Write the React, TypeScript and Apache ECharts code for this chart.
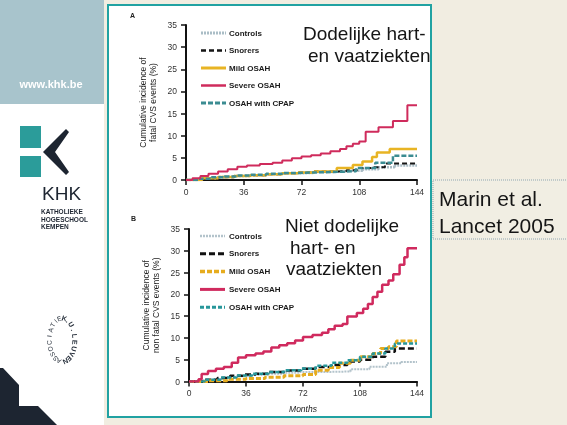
import React, { useEffect, useRef } from "react";
import * as echarts from "echarts";

// ---------- data ----------
const monthTicks = [0, 36, 72, 108, 144];
const seriesNames = ["Controls", "Snorers", "Mild OSAH", "Severe OSAH", "OSAH with CPAP"];

// Panel A: fatal CVS events (%)
const aControlsMonths = [0, 10, 20, 30, 40, 50, 60, 70, 80, 90, 100, 110, 120, 130, 144];
const aControlsValues = [0, 0.4, 0.7, 0.9, 1.1, 1.3, 1.5, 1.6, 1.8, 1.9, 2.1, 2.4, 2.9, 3.3, 3.3];
const aSnorersMonths = [0, 10, 20, 30, 40, 50, 60, 70, 80, 90, 100, 108, 116, 124, 144];
const aSnorersValues = [0, 0.3, 0.6, 0.9, 1.1, 1.3, 1.5, 1.7, 1.9, 2.0, 2.2, 2.7, 2.9, 3.7, 3.7];
const aMildMonths = [0, 10, 20, 30, 40, 50, 60, 70, 80, 94, 104, 110, 116, 119, 127, 144];
const aMildValues = [0, 0.4, 0.7, 0.9, 1.1, 1.3, 1.5, 1.7, 1.9, 2.7, 3.4, 4.2, 5.2, 6.2, 7.0, 7.0];
const aSevereMonths = [0, 4, 9, 14, 20, 26, 32, 38, 46, 54, 60, 66, 72, 78, 84, 90, 96, 100, 104, 108, 112, 120, 129, 138, 144];
const aSevereValues = [0, 0.4, 0.9, 1.4, 1.9, 2.4, 3.0, 3.3, 3.6, 3.9, 4.4, 4.9, 5.3, 5.6, 6.0, 6.5, 7.0, 7.6, 8.2, 8.7, 10.9, 11.9, 13.3, 16.9, 17.0];
const aCpapMonths = [0, 8, 16, 24, 32, 40, 50, 60, 70, 80, 90, 100, 106, 118, 129, 144];
const aCpapValues = [0, 0.3, 0.6, 0.8, 1.0, 1.2, 1.4, 1.6, 1.7, 1.8, 1.9, 2.0, 2.7, 3.9, 5.5, 5.5];

// Panel B: non fatal CVS events (%)
const bControlsMonths = [0, 8, 15, 22, 30, 40, 50, 60, 70, 80, 89, 102, 114, 125, 134, 144];
const bControlsValues = [0, 0.3, 0.6, 0.9, 1.2, 1.5, 1.8, 2.0, 2.2, 2.2, 2.3, 2.8, 3.4, 4.2, 4.5, 4.5];
const bSnorersMonths = [0, 10, 18, 26, 34, 42, 50, 60, 70, 80, 90, 100, 108, 116, 124, 130, 144];
const bSnorersValues = [0, 0.4, 0.8, 1.3, 1.6, 1.8, 2.2, 2.5, 2.9, 3.3, 3.8, 4.6, 5.0, 5.7, 6.8, 7.6, 7.6];
const bMildMonths = [0, 12, 24, 36, 48, 60, 72, 80, 88, 95, 102, 108, 116, 121, 126, 131, 144];
const bMildValues = [0, 0.2, 0.5, 0.7, 1.0, 1.3, 1.6, 2.6, 3.2, 4.2, 4.9, 5.7, 6.4, 7.6, 8.0, 9.3, 9.3];
const bSevereMonths = [0, 6, 8, 12, 17, 22, 27, 31, 36, 42, 47, 52, 57, 62, 67, 72, 78, 84, 88, 92, 97, 100, 106, 110, 113, 116, 119, 122, 126, 129, 133, 136, 138, 144];
const bSevereValues = [0, 0.5, 1.7, 2.4, 2.9, 3.3, 4.3, 5.5, 6.0, 6.4, 6.9, 7.8, 8.3, 8.8, 9.4, 10.2, 10.7, 11.2, 12.0, 12.8, 13.2, 14.9, 15.7, 16.7, 17.8, 19.4, 20.6, 22.2, 23.2, 24.6, 26.8, 28.5, 30.6, 30.6];
const bCpapMonths = [0, 10, 20, 30, 40, 50, 60, 71, 80, 90, 100, 108, 116, 124, 130, 144];
const bCpapValues = [0, 0.4, 0.9, 1.4, 1.8, 2.2, 2.6, 3.0, 3.6, 4.3, 4.9, 5.7, 6.4, 7.6, 8.7, 8.7];

// ---------- styles ----------
const FONT = "'Liberation Sans', Arial, sans-serif";
const TEAL = "#21a2a2";

type LS = { color: string; width: number; dash: number[] | null };
const styleA: LS[] = [
  { color: "#aabdc6", width: 2.5, dash: [2, 1] },
  { color: "#151515", width: 2, dash: [5, 3] },
  { color: "#e8b424", width: 2.5, dash: null },
  { color: "#cf2b5c", width: 2, dash: null },
  { color: "#3b8c92", width: 2.5, dash: [5, 2] },
];
const styleB: LS[] = [
  { color: "#b3c3cb", width: 2, dash: [2, 1] },
  { color: "#111111", width: 2.5, dash: [6, 3] },
  { color: "#e6ac1e", width: 3, dash: [5, 2] },
  { color: "#d02a5e", width: 2.5, dash: null },
  { color: "#27979a", width: 2.5, dash: [4, 2] },
];

const panelA = [
  [aControlsMonths, aControlsValues],
  [aSnorersMonths, aSnorersValues],
  [aMildMonths, aMildValues],
  [aSevereMonths, aSevereValues],
  [aCpapMonths, aCpapValues],
];
const panelB = [
  [bControlsMonths, bControlsValues],
  [bSnorersMonths, bSnorersValues],
  [bMildMonths, bMildValues],
  [bSevereMonths, bSevereValues],
  [bCpapMonths, bCpapValues],
];

const drawOrder = [0, 1, 2, 4, 3];

function makeSeries(panel: number[][][], styles: LS[], axis: number, prefix: string) {
  return drawOrder.map((i) => ({
    name: prefix + seriesNames[i],
    type: "line",
    step: "end",
    symbol: "none",
    xAxisIndex: axis,
    yAxisIndex: axis,
    z: i === 3 ? 4 : 3,
    lineStyle: {
      color: styles[i].color,
      width: styles[i].width,
      type: styles[i].dash ? styles[i].dash : "solid",
    },
    data: panel[i][0].map((m, k) => [m, panel[i][1][k]]),
  }));
}

function makeXAxis(grid: number, name: string) {
  return {
    type: "value",
    gridIndex: grid,
    min: 0,
    max: 144,
    interval: 36,
    name,
    nameLocation: "middle",
    nameGap: 23,
    nameTextStyle: { fontFamily: FONT, fontSize: 8.5, fontStyle: "italic", color: "#222" },
    axisLine: { lineStyle: { color: "#111", width: 2 } },
    axisTick: { length: 5, lineStyle: { color: "#111", width: 1.5 } },
    axisLabel: {
      margin: 7,
      fontFamily: FONT,
      fontSize: 8.5,
      color: "#333",
      customValues: monthTicks,
    },
    splitLine: { show: false },
  };
}

function makeYAxis(grid: number, name: string) {
  return {
    type: "value",
    gridIndex: grid,
    min: 0,
    max: 35,
    interval: 5,
    name,
    nameLocation: "middle",
    nameGap: 28,
    nameTextStyle: { fontFamily: FONT, fontSize: 8.5, lineHeight: 10, color: "#222" },
    axisLine: { show: true, lineStyle: { color: "#111", width: 2 } },
    axisTick: { show: true, length: 5, lineStyle: { color: "#111", width: 1.5 } },
    axisLabel: { margin: 9, fontFamily: FONT, fontSize: 8.5, color: "#333" },
    splitLine: { show: false },
  };
}

function legendElements(styles: LS[], x1: number, x2: number, y0: number, dy: number, textX: number) {
  const els: any[] = [];
  seriesNames.forEach((n, i) => {
    const y = y0 + i * dy;
    els.push({
      type: "line",
      z: 10,
      shape: { x1, y1: y, x2, y2: y },
      style: { stroke: styles[i].color, lineWidth: styles[i].width + 0.5, lineDash: styles[i].dash || null },
    });
    els.push({
      type: "text",
      z: 10,
      x: textX,
      y,
      style: { text: n, font: `bold 8px ${FONT}`, fill: "#1a1a1a", textVerticalAlign: "middle" },
    });
  });
  return els;
}

function ellipseText(text: string, cx: number, cy: number, rx: number, ry: number, t0: number, t1: number, font: string) {
  const els: any[] = [];
  const n = text.length;
  for (let k = 0; k < n; k++) {
    const th = ((t0 + ((t1 - t0) * k) / (n - 1)) * Math.PI) / 180;
    const x = cx + rx * Math.cos(th);
    const y = cy + ry * Math.sin(th);
    const dx = -rx * Math.sin(th) * Math.sign(t1 - t0);
    const dyS = ry * Math.cos(th) * Math.sign(t1 - t0);
    const rot = Math.atan2(-dyS, dx);
    els.push({
      type: "text",
      z: 10,
      x,
      y,
      rotation: rot,
      style: { text: text[k], font, fill: "#1e2733", textAlign: "center", textVerticalAlign: "middle" },
    });
  }
  return els;
}

export default function App() {
  const ref = useRef<HTMLDivElement>(null);

  useEffect(() => {
    if (!ref.current) return;
    const chart = echarts.init(ref.current, undefined, { renderer: "svg" });

    const background: any[] = [
      { type: "rect", z: -5, shape: { x: 0, y: 0, width: 567, height: 425 }, style: { fill: "#f1ede1" } },
      { type: "rect", z: -5, shape: { x: 0, y: 0, width: 104, height: 104 }, style: { fill: "#a8c4cc" } },
      { type: "rect", z: -5, shape: { x: 0, y: 104, width: 104, height: 321 }, style: { fill: "#ffffff" } },
      {
        type: "rect",
        z: -5,
        shape: { x: 108, y: 5, width: 323, height: 412 },
        style: { fill: "#ffffff", stroke: TEAL, lineWidth: 2 },
      },
      {
        type: "polygon",
        z: -4,
        shape: { points: [[0, 368], [3, 368], [19, 385], [19, 406], [38, 406], [57, 425], [0, 425]] },
        style: { fill: "#1d2531" },
      },
      { type: "rect", z: -4, shape: { x: 20, y: 126, width: 21, height: 22 }, style: { fill: "#2b9c9a" } },
      { type: "rect", z: -4, shape: { x: 20, y: 156, width: 21, height: 21 }, style: { fill: "#2b9c9a" } },
      {
        type: "polygon",
        z: -4,
        shape: { points: [[66, 129], [69, 132], [55, 152], [69, 172], [66, 175], [43, 152]] },
        style: { fill: "#1d2531" },
      },
      {
        type: "rect",
        z: -4,
        shape: { x: 433, y: 180, width: 140, height: 59 },
        style: { fill: "#f1eee3", stroke: "#8fa6b2", lineWidth: 1, lineDash: [1, 1] },
      },
    ];

    const texts: any[] = [
      { type: "text", z: 10, x: 51, y: 84, style: { text: "www.khk.be", font: `bold 11px ${FONT}`, fill: "#ffffff", textAlign: "center", textVerticalAlign: "middle" } },
      { type: "text", z: 10, x: 42, y: 193, style: { text: "KHK", font: `19px ${FONT}`, fill: "#1d2531", textVerticalAlign: "middle" } },
      {
        type: "text",
        z: 10,
        x: 41,
        y: 208,
        style: { text: "KATHOLIEKE\nHOGESCHOOL\nKEMPEN", font: `bold 6.5px ${FONT}`, lineHeight: 7.5, fill: "#1d2531" },
      },
      ...ellipseText("ASSOCIATIE", 62, 340, 13, 22, 105, 258, `6.5px ${FONT}`),
      ...ellipseText("K.U.LEUVEN", 62, 340, 13, 22, 280, 435, `bold 7px ${FONT}`),
      { type: "text", z: 10, x: 130, y: 15, style: { text: "A", font: `bold 7px ${FONT}`, fill: "#222", textVerticalAlign: "middle" } },
      { type: "text", z: 10, x: 131, y: 218, style: { text: "B", font: `bold 7px ${FONT}`, fill: "#222", textVerticalAlign: "middle" } },
      { type: "text", z: 10, x: 303, y: 33, style: { text: "Dodelijke hart-", font: `19px ${FONT}`, fill: "#151515", textVerticalAlign: "middle" } },
      { type: "text", z: 10, x: 308, y: 55, style: { text: "en vaatziekten", font: `19px ${FONT}`, fill: "#151515", textVerticalAlign: "middle" } },
      { type: "text", z: 10, x: 285, y: 225, style: { text: "Niet dodelijke", font: `19px ${FONT}`, fill: "#151515", textVerticalAlign: "middle" } },
      { type: "text", z: 10, x: 290, y: 247, style: { text: "hart- en", font: `19px ${FONT}`, fill: "#151515", textVerticalAlign: "middle" } },
      { type: "text", z: 10, x: 286, y: 268, style: { text: "vaatziekten", font: `19px ${FONT}`, fill: "#151515", textVerticalAlign: "middle" } },
      { type: "text", z: 10, x: 439, y: 198, style: { text: "Marin et al.", font: `21px ${FONT}`, fill: "#151515", textVerticalAlign: "middle" } },
      { type: "text", z: 10, x: 439, y: 225, style: { text: "Lancet 2005", font: `21px ${FONT}`, fill: "#151515", textVerticalAlign: "middle" } },
      ...legendElements(styleA, 201, 226, 33, 17.5, 229),
      ...legendElements(styleB, 200, 225, 236, 17.8, 229),
    ];

    chart.setOption({
      animation: false,
      grid: [
        { left: 186, top: 25, width: 231, height: 155 },
        { left: 189, top: 229, width: 228, height: 152.5 },
      ],
      xAxis: [makeXAxis(0, ""), makeXAxis(1, "Months")],
      yAxis: [
        makeYAxis(0, "Cumulative incidence of\nfatal CVS events (%)"),
        makeYAxis(1, "Cumulative incidence of\nnon fatal CVS events (%)"),
      ],
      series: [...makeSeries(panelA, styleA, 0, "A "), ...makeSeries(panelB, styleB, 1, "B ")],
      graphic: { elements: [...background, ...texts] },
    });

    return () => chart.dispose();
  }, []);

  return (
    <div
      ref={ref}
      style={{ position: "fixed", left: 0, top: 0, width: 567, height: 425 }}
    />
  );
}
